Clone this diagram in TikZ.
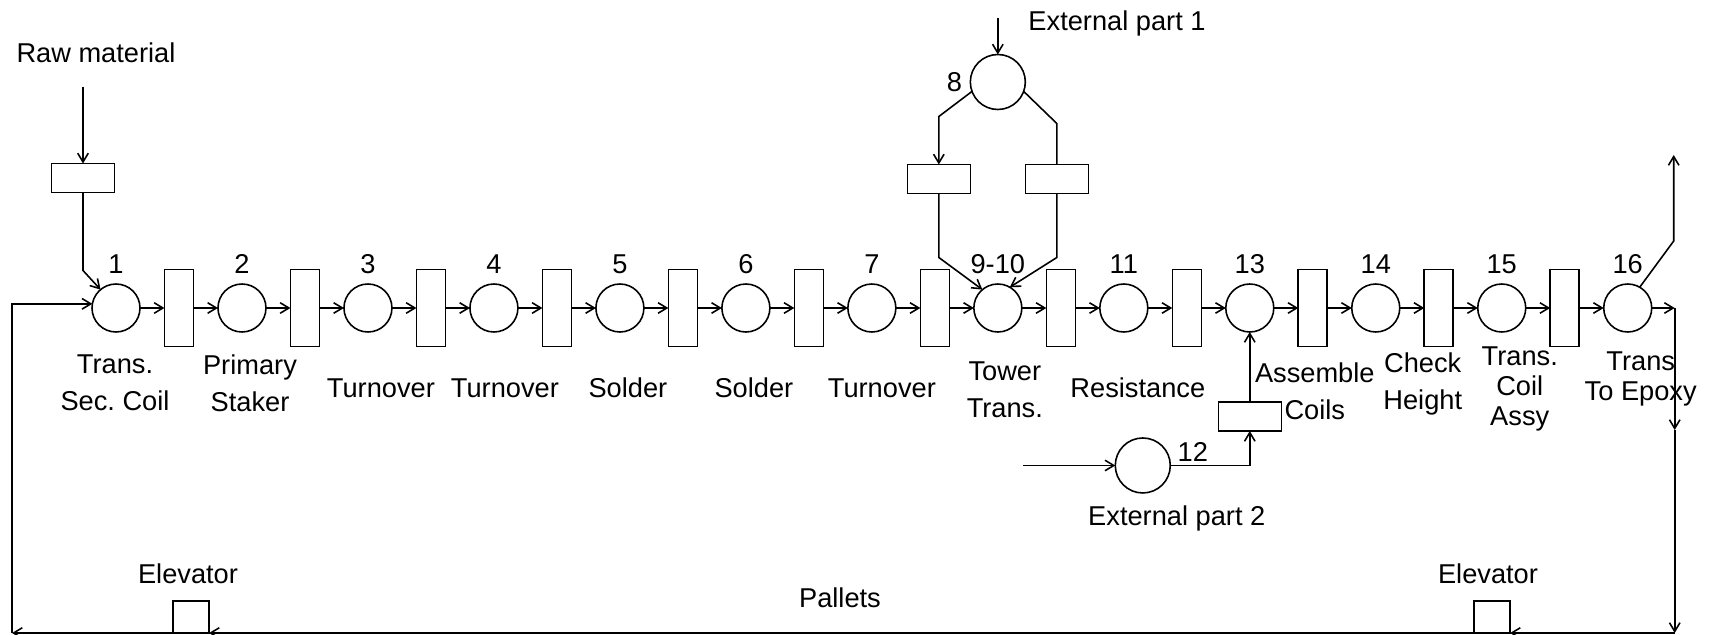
\documentclass[tikz,border=0pt]{standalone}
\usepackage{fontspec}
\setmainfont{Liberation Sans}
\usepackage{tikz}
\usetikzlibrary{calc,positioning,arrows.meta}

\tikzset{
	place/.style={circle,draw,minimum size=0.96cm,inner sep=0pt,outer sep=0pt},
	bigplace/.style={place,minimum size=1.1cm},
	bar/.style={rectangle,draw,minimum width=0.58cm,minimum height=1.54cm,inner sep=0pt,outer sep=0pt},
	buffer/.style={rectangle,draw,minimum width=1.26cm,minimum height=0.58cm,inner sep=0pt,outer sep=0pt},
	elevator/.style={rectangle,draw,minimum width=0.72cm,minimum height=0.64cm,inner sep=0pt,outer sep=0pt},
	lbl/.style={align=center},
	tightlbl/.style={align=center,font=\fontsize{15.5}{17}\selectfont}
}

\begin{document}
\begin{tikzpicture}[x=0.02cm,y=-0.02cm,node distance=0.49cm,line width=0.9pt,>={Straight Barb[length=5pt,width=6pt]},font=\fontsize{15.5}{21}\selectfont]
		\useasboundingbox (0,0) rectangle (1721,635);
		% main line
		\node[place] (p1) at (116,308) {};
		\node[bar,right=of p1] (b1) {};
		\node[place,right=of b1] (p2) {};
		\node[bar,right=of p2] (b2) {};
		\node[place,right=of b2] (p3) {};
		\node[bar,right=of p3] (b3) {};
		\node[place,right=of b3] (p4) {};
		\node[bar,right=of p4] (b4) {};
		\node[place,right=of b4] (p5) {};
		\node[bar,right=of p5] (b5) {};
		\node[place,right=of b5] (p6) {};
		\node[bar,right=of p6] (b6) {};
		\node[place,right=of b6] (p7) {};
		\node[bar,right=of p7] (b7) {};
		\node[place,right=of b7] (p9) {};
		\node[bar,right=of p9] (b8) {};
		\node[place,right=of b8] (p11) {};
		\node[bar,right=of p11] (b9) {};
		\node[place,right=of b9] (p13) {};
		\node[bar,right=of p13] (b10) {};
		\node[place,right=of b10] (p14) {};
		\node[bar,right=of p14] (b11) {};
		\node[place,right=of b11] (p15) {};
		\node[bar,right=of p15] (b12) {};
		\node[place,right=of b12] (p16) {};
		\draw[->] (p1) -- (b1); \draw[->] (b1) -- (p2); \draw[->] (p2) -- (b2); \draw[->] (b2) -- (p3);
		\draw[->] (p3) -- (b3); \draw[->] (b3) -- (p4); \draw[->] (p4) -- (b4); \draw[->] (b4) -- (p5);
		\draw[->] (p5) -- (b5); \draw[->] (b5) -- (p6); \draw[->] (p6) -- (b6); \draw[->] (b6) -- (p7);
		\draw[->] (p7) -- (b7); \draw[->] (b7) -- (p9); \draw[->] (p9) -- (b8); \draw[->] (b8) -- (p11);
		\draw[->] (p11) -- (b9); \draw[->] (b9) -- (p13); \draw[->] (p13) -- (b10); \draw[->] (b10) -- (p14);
		\draw[->] (p14) -- (b11); \draw[->] (b11) -- (p15); \draw[->] (p15) -- (b12); \draw[->] (b12) -- (p16);
		% numbers
		\node (n1) at (p1.north) [above=2pt] {1};
		\node (n2) at (p2.north) [above=2pt] {2};
		\node (n3) at (p3.north) [above=2pt] {3};
		\node (n4) at (p4.north) [above=2pt] {4};
		\node (n5) at (p5.north) [above=2pt] {5};
		\node (n6) at (p6.north) [above=2pt] {6};
		\node (n7) at (p7.north) [above=2pt] {7};
		\node (n9) at (p9.north) [above=2pt] {9-10};
		\node (n11) at (p11.north) [above=2pt] {11};
		\node (n13) at (p13.north) [above=2pt] {13};
		\node (n14) at (p14.north) [above=2pt] {14};
		\node (n15) at (p15.north) [above=2pt] {15};
		\node (n16) at (p16.north) [above=2pt] {16};
		% operations
		\node[lbl] (l1) at ($(p1)+(-1,75)$) {Trans.\\Sec.\ Coil};
		\node[lbl] (l2) at ($(p2)+(8,75)$) {Primary\\Staker};
		\node[lbl] (l3) at ($(p3)+(13,80)$) {Turnover};
		\node[lbl] (l4) at ($(p4)+(11,80)$) {Turnover};
		\node[lbl] (l5) at ($(p5)+(8,80)$) {Solder};
		\node[lbl] (l6) at ($(p6)+(8,80)$) {Solder};
		\node[lbl] (l7) at ($(p7)+(10,80)$) {Turnover};
		\node[lbl] (l9) at ($(p9)+(7,82)$) {Tower\\Trans.};
		\node[lbl] (l11) at ($(p11)+(14,80)$) {Resistance};
		\node[lbl] (l13) at ($(p13)+(65,83)$) {Assemble\\Coils};
		\node[lbl] (l14) at ($(p14)+(47,76)$) {Check\\Height};
		\node[tightlbl] (l15) at ($(p15)+(18,81)$) {Trans.\\Coil\\Assy};
		\node[tightlbl] (l16) at ($(p16)+(13,71)$) {Trans\\To Epoxy};
		% raw material
		\node[buffer] (q0) at ($(p1)+(-33,-130)$) {};
		\node (rawlbl) at ($(q0)+(13,-125)$) {Raw material};
		\coordinate (rawin) at ($(q0.north)+(0,-77)$);
		\draw[->] (rawin) -- (q0.north);
		\draw[->] (q0.south) -- ++(0,78) -- (p1.130);
		% external part 1
		\node[bigplace] (p8) at ($(p9)+(0,-226)$) {}
			node at (p8.west) [left=1pt] (n8) {8};
		\coordinate (ext1) at ($(p8)+(0,-64)$);
		\node[anchor=west] (ext1lbl) at ($(p8)+(24,-59)$) {External part 1};
		\draw[->] (ext1) -- (p8);
		\node[buffer] (q8l) at ($(p8)+(-59,97)$) {};
		\node[buffer] (q8r) at ($(p8)+(59,97)$) {};
		\draw[->] (p8.200) -- ($(q8l.north)+(0,-48)$) -- (q8l.north);
		\draw (p8.340) -- ($(q8r.north)+(0,-41)$) -- (q8r.north);
		\draw[->] (q8l.south) -- ++(0,64) -- (p9.130);
		\draw[->] (q8r.south) -- ++(0,64) -- (p9.60);
		% external part 2
		\node[buffer,below=1.4cm of p13] (q12) {};
		\node[bigplace] (p12) at ($(q12)+(-107,49)$) {};
		\node (n12) at ($(p12)+(50,-13)$) {12};
		\node (ext2lbl) at ($(p12)+(34,53)$) {External part 2};
		\coordinate (ext2) at ($(p12)+(-120,0)$);
		\draw[->] (ext2) -- (p12);
		\draw[->] (p12.east) -| (q12.south);
		\draw[->] (q12.north) -- (p13.south);
		% output and pallet return
		\coordinate (up1) at ($(p16)+(46,-67)$);
		\coordinate (outtop) at ($(p16)+(46,-153)$);
		\draw[->] (p16.60) -- (up1) -- (outtop);
		\coordinate (ret) at ($(p16)+(47,0)$);
		\coordinate (retmid) at ($(ret)+(0,122)$);
		\draw[->] (p16) -- (ret);
		\node[elevator] (el1) at (191,617) {};
		\node[elevator] (el2) at (1492,617) {};
		\node (el1lbl) at ($(el1.north)+(-3,-27)$) {Elevator};
		\node (el2lbl) at ($(el2.north)+(-4,-27)$) {Elevator};
		\node (pallets) at (840,598) {Pallets};
		\coordinate (retcorner) at (ret |- el2.south);
		\coordinate (lpb) at ($(el1.south)+(-179,0)$);
		\draw[->] (ret) -- (retmid);
		\draw[->] (retmid) -- (retcorner);
		\draw[->] (retcorner) -- (el2.south east);
		\draw[->] (el2.south west) -- (el1.south east);
		\draw[->] (el1.south west) -- (lpb);
		\draw[->] (lpb) |- (p1.170);
\end{tikzpicture}
\end{document}
